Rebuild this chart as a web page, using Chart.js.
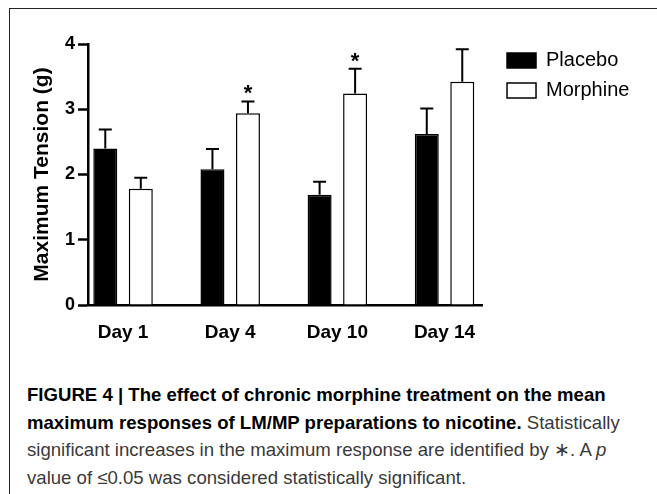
<!DOCTYPE html>
<html><head><meta charset="utf-8">
<script src="https://cdn.jsdelivr.net/npm/chart.js@4"></script>
<style>
html,body{margin:0;padding:0;background:#fff;width:657px;height:494px;overflow:hidden;}
#frame{position:absolute;left:9px;top:8px;width:700px;height:600px;border-left:1px solid #222;border-top:1px solid #222;}
#wrap{position:absolute;left:0;top:0;width:657px;height:360px;}
#cap{position:absolute;left:27px;top:381px;font-family:"Liberation Sans",Arial,sans-serif;font-size:18.6px;line-height:27.5px;color:#3a3a3a;white-space:nowrap;}
#cap b{color:#000;}
</style></head><body>
<div id="frame"></div>
<div id="wrap"><canvas id="c" width="657" height="360"></canvas></div>
<div id="cap"><b>FIGURE 4 | The effect of chronic morphine treatment on the mean</b><br><b>maximum responses of LM/MP preparations to nicotine.</b> Statistically<br>significant increases in the maximum response are identified by ∗. A <i>p</i><br>value of ≤0.05 was considered statistically significant.</div>
<script>
const days = ["Day 1", "Day 4", "Day 10", "Day 14"];
const placebo = [2.40, 2.08, 1.69, 2.62];
const placeboSEM = [0.29, 0.31, 0.20, 0.39];
const morphine = [1.78, 2.94, 3.24, 3.42];
const morphineSEM = [0.17, 0.18, 0.38, 0.50];
const morphineSig = [false, true, true, false];
const yTicks = [0, 1, 2, 3, 4];

const FONT = '"Liberation Sans", Arial, sans-serif';
Chart.defaults.font.family = FONT;

const errPlugin = {
  id: 'err',
  afterDatasetsDraw(chart) {
    const ctx = chart.ctx, ys = chart.scales.y;
    const sets = [[placebo, placeboSEM, null], [morphine, morphineSEM, morphineSig]];
    sets.forEach(([vals, sem, sig], di) => {
      const meta = chart.getDatasetMeta(di);
      meta.data.forEach((bar, i) => {
        const yb = ys.getPixelForValue(vals[i]);
        const yt = ys.getPixelForValue(vals[i] + sem[i]);
        ctx.save();
        ctx.strokeStyle = '#000';
        ctx.lineWidth = 2;
        ctx.beginPath();
        ctx.moveTo(bar.x, yb); ctx.lineTo(bar.x, yt);
        ctx.moveTo(bar.x - 6.5, yt); ctx.lineTo(bar.x + 6.5, yt);
        ctx.stroke();
        if (sig && sig[i]) {
          ctx.fillStyle = '#000';
          ctx.font = 'bold 22px ' + FONT;
          ctx.textAlign = 'center';
          ctx.textBaseline = 'alphabetic';
          ctx.fillText('*', bar.x, yt - 1);
        }
        ctx.restore();
      });
    });
  }
};

const chart = new Chart(document.getElementById('c'), {
  type: 'bar',
  data: {
    datasets: [
      { label: 'Placebo', data: placebo.map((v, i) => ({ x: i, y: v })),
        backgroundColor: '#000', borderColor: '#000', borderWidth: 1.5,
        barPercentage: 0.676, categoryPercentage: 0.6625 },
      { label: 'Morphine', data: morphine.map((v, i) => ({ x: i, y: v })),
        backgroundColor: '#fff', borderColor: '#000', borderWidth: 1.5,
        barPercentage: 0.676, categoryPercentage: 0.6625 }
    ]
  },
  plugins: [errPlugin],
  options: {
    responsive: false, animation: false, devicePixelRatio: 1,
    layout: { padding: { top: 40.5, left: 0, right: 17.6, bottom: 0 } },
    plugins: {
      tooltip: { enabled: false },
      legend: {
        position: 'right', align: 'start', fullSize: true, maxWidth: 220,
        labels: { boxWidth: 29, boxHeight: 15, padding: 10, color: '#000', font: { size: 20 } }
      }
    },
    scales: {
      x: {
        type: 'linear', min: -0.327, max: 3.35, offset: false, bounds: 'data',
        afterBuildTicks: s => { s.ticks = days.map((d, i) => ({ value: i })); },
        ticks: { callback: v => days[v], font: { size: 19, weight: 'bold' }, color: '#000', padding: 16, autoSkip: false, maxRotation: 0 },
        grid: { display: true, drawOnChartArea: false, drawTicks: false, offset: false },
        border: { display: true, color: '#000', width: 2.5 },
        afterFit: s => { s.height = 55; s.paddingLeft = 0; s.paddingRight = 0; }
      },
      y: {
        min: 0, max: 4,
        afterBuildTicks: s => { s.ticks = yTicks.map(v => ({ value: v })); },
        ticks: { font: { size: 18, weight: 'bold' }, color: '#000', padding: 3 },
        grid: { drawOnChartArea: false, drawTicks: true, tickLength: 10, tickColor: '#000', tickWidth: 2.5 },
        border: { display: true, color: '#000', width: 2.5 },
        title: { display: true, text: 'Maximum Tension (g)', color: '#000', font: { size: 21, weight: 'bold' }, padding: { top: 30, bottom: 0 } },
        afterFit: s => { s.width = 88; s.paddingTop = 44; }
      },
      y2: {
        position: 'right', display: true,
        ticks: { display: false }, grid: { display: false, drawTicks: false }, border: { display: false },
        afterFit: s => { s.width = 15; }
      }
    }
  }
});
</script>
</body></html>
